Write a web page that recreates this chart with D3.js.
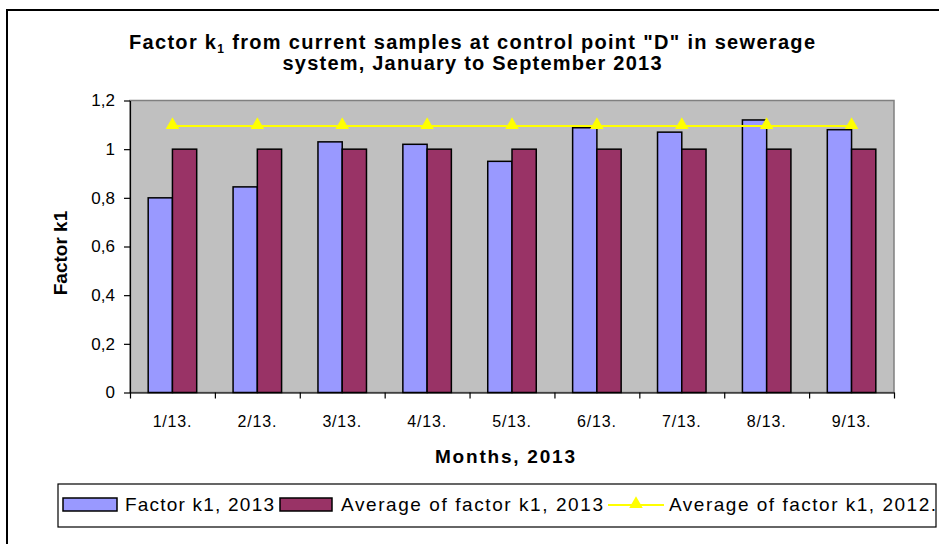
<!DOCTYPE html>
<html>
<head>
<meta charset="utf-8">
<script src="https://cdn.jsdelivr.net/npm/d3@7"></script>
<style>
  body { margin: 0; background: #fff; }
  svg { display: block; font-family: "Liberation Sans", Arial, sans-serif; }
</style>
</head>
<body>
<svg id="chart" width="939" height="544"></svg>
<script>
"use strict";

// values
var months = ["1/13.", "2/13.", "3/13.", "4/13.", "5/13.", "6/13.", "7/13.", "8/13.", "9/13."];
var factorK1_2013 = [0.80, 0.845, 1.03, 1.02, 0.95, 1.088, 1.07, 1.12, 1.08];
var avgK1_2013 = [1, 1, 1, 1, 1, 1, 1, 1, 1];
var avgK1_2012 = [1.095, 1.095, 1.095, 1.095, 1.095, 1.095, 1.095, 1.095, 1.095];
var yTicks = [0, 0.2, 0.4, 0.6, 0.8, 1, 1.2];
var seriesNames = ["Factor k1, 2013", "Average of factor k1, 2013", "Average of factor k1, 2012."];

var colors = {
  bar2013: "#9999ff",
  avg2013: "#993366",
  avg2012: "#ffff00",
  plot: "#c0c0c0"
};

function drawChart() {
  var svg = d3.select("#chart");

  var plot = { left: 130, right: 894, top: 100.5, bottom: 392.5 };

  var x = d3.scaleBand()
    .domain(months)
    .range([plot.left, plot.right])
    .padding(0);
  var barW = x.bandwidth() / 3.5;

  var y = d3.scaleLinear()
    .domain([0, 1.2])
    .range([plot.bottom, plot.top]);

  var commaFormat = d3.formatLocale({
    decimal: ",", thousands: ".", grouping: [3], currency: ["", ""]
  }).format("~f");

  // chart frame (cut off on the right and bottom like the original)
  svg.append("rect")
    .attr("x", 7)
    .attr("y", 10)
    .attr("width", 960)
    .attr("height", 560)
    .style("fill", "#fff")
    .style("stroke", "#000")
    .style("stroke-width", 2);

  // title
  var title = svg.append("text")
    .attr("x", 472)
    .attr("y", 49)
    .attr("text-anchor", "middle")
    .attr("textLength", 686)
    .attr("lengthAdjust", "spacing")
    .style("font-size", "20px")
    .style("font-weight", "bold")
    .style("fill", "#000");
  title.append("tspan").text("Factor k");
  title.append("tspan").text("1").attr("dy", 4).style("font-size", "12px");
  title.append("tspan").text(" from current samples at control point \"D\" in sewerage").attr("dy", -4);

  svg.append("text")
    .attr("x", 472)
    .attr("y", 70)
    .attr("text-anchor", "middle")
    .attr("textLength", 379)
    .attr("lengthAdjust", "spacing")
    .style("font-size", "20px")
    .style("font-weight", "bold")
    .text("system, January to September 2013");

  // plot area
  svg.append("rect")
    .attr("x", plot.left)
    .attr("y", plot.top)
    .attr("width", plot.right - plot.left)
    .attr("height", plot.bottom - plot.top)
    .style("fill", colors.plot)
    .style("stroke", "#808080")
    .style("stroke-width", 1.5);

  // bars
  var groups = svg.append("g").attr("class", "bars");
  groups.selectAll("rect.k2013")
    .data(factorK1_2013)
    .enter().append("rect")
    .attr("class", "k2013")
    .attr("x", function (d, i) { return x(months[i]) + x.bandwidth() / 2 - barW; })
    .attr("y", function (d) { return y(d); })
    .attr("width", barW)
    .attr("height", function (d) { return y(0) - y(d); })
    .style("fill", colors.bar2013)
    .style("stroke", "#000")
    .style("stroke-width", 1.5);

  groups.selectAll("rect.avg2013")
    .data(avgK1_2013)
    .enter().append("rect")
    .attr("class", "avg2013")
    .attr("x", function (d, i) { return x(months[i]) + x.bandwidth() / 2; })
    .attr("y", function (d) { return y(d); })
    .attr("width", barW)
    .attr("height", function (d) { return y(0) - y(d); })
    .style("fill", colors.avg2013)
    .style("stroke", "#000")
    .style("stroke-width", 1.5);

  // 2012 average line with triangle markers
  var line = d3.line()
    .x(function (d, i) { return x(months[i]) + x.bandwidth() / 2; })
    .y(function (d) { return y(d); });

  svg.append("path")
    .datum(avgK1_2012)
    .attr("d", line)
    .style("fill", "none")
    .style("stroke", colors.avg2012)
    .style("stroke-width", 2);

  var tri = d3.symbol().type(d3.symbolTriangle).size(80);
  svg.selectAll("path.marker")
    .data(avgK1_2012)
    .enter().append("path")
    .attr("class", "marker")
    .attr("d", tri)
    .attr("transform", function (d, i) {
      return "translate(" + (x(months[i]) + x.bandwidth() / 2) + "," + (y(d) - 1) + ")";
    })
    .style("fill", colors.avg2012);

  // y axis
  var yAxis = svg.append("g")
    .attr("transform", "translate(" + plot.left + ",0)")
    .call(d3.axisLeft(y)
      .tickValues(yTicks)
      .tickFormat(commaFormat)
      .tickSize(6)
      .tickSizeOuter(0)
      .tickPadding(9));
  yAxis.selectAll("text")
    .style("font-family", "\"Liberation Sans\", Arial, sans-serif")
    .style("font-size", "17px")
    .style("fill", "#000");
  yAxis.selectAll("line, path").style("stroke", "#000").style("stroke-width", 1.2);

  // x axis: labels at category centres, ticks at category boundaries
  var xAxis = svg.append("g")
    .attr("transform", "translate(0," + plot.bottom + ")")
    .call(d3.axisBottom(x).tickSize(0).tickPadding(23));
  xAxis.select(".domain").remove();
  xAxis.selectAll("text")
    .style("font-family", "\"Liberation Sans\", Arial, sans-serif")
    .style("font-size", "16px")
    .style("letter-spacing", "0.8px")
    .style("fill", "#000");

  var boundary = d3.scaleLinear().domain([0, months.length]).range([plot.left, plot.right]);
  var xTicks = svg.append("g")
    .attr("transform", "translate(0," + plot.bottom + ")")
    .call(d3.axisBottom(boundary)
      .ticks(months.length)
      .tickFormat("")
      .tickSize(6)
      .tickSizeOuter(0));
  xTicks.selectAll("line, path").style("stroke", "#000").style("stroke-width", 1.2);

  // axis titles
  svg.append("text")
    .attr("transform", "translate(67,253) rotate(-90)")
    .attr("text-anchor", "middle")
    .style("font-size", "19px")
    .style("font-weight", "bold")
    .text("Factor k1");

  svg.append("text")
    .attr("x", 505)
    .attr("y", 463)
    .attr("text-anchor", "middle")
    .attr("textLength", 140)
    .attr("lengthAdjust", "spacing")
    .style("font-size", "19px")
    .style("font-weight", "bold")
    .text("Months, 2013");

  // legend
  var legend = svg.append("g").attr("class", "legend");
  legend.append("rect")
    .attr("x", 58)
    .attr("y", 484)
    .attr("width", 878)
    .attr("height", 43)
    .style("fill", "#fff")
    .style("stroke", "#000")
    .style("stroke-width", 1.2);

  legend.append("rect")
    .attr("x", 63).attr("y", 498).attr("width", 54).attr("height", 13)
    .style("fill", colors.bar2013).style("stroke", "#000").style("stroke-width", 1.5);
  legend.append("rect")
    .attr("x", 280).attr("y", 498).attr("width", 52).attr("height", 13)
    .style("fill", colors.avg2013).style("stroke", "#000").style("stroke-width", 1.5);
  legend.append("line")
    .attr("x1", 608).attr("x2", 664).attr("y1", 505).attr("y2", 505)
    .style("stroke", colors.avg2012).style("stroke-width", 2);
  legend.append("path")
    .attr("d", tri)
    .attr("transform", "translate(636,504)")
    .style("fill", colors.avg2012);

  var legendText = [
    { x: 125, w: 149 },
    { x: 341, w: 262 },
    { x: 669, w: 267 }
  ];
  legend.selectAll("text")
    .data(seriesNames)
    .enter().append("text")
    .attr("x", function (d, i) { return legendText[i].x; })
    .attr("y", 511)
    .attr("textLength", function (d, i) { return legendText[i].w; })
    .attr("lengthAdjust", "spacing")
    .style("font-size", "19px")
    .style("fill", "#000")
    .text(function (d) { return d; });
}

document.addEventListener("DOMContentLoaded", function () {
  drawChart();
});
</script>
</body>
</html>
